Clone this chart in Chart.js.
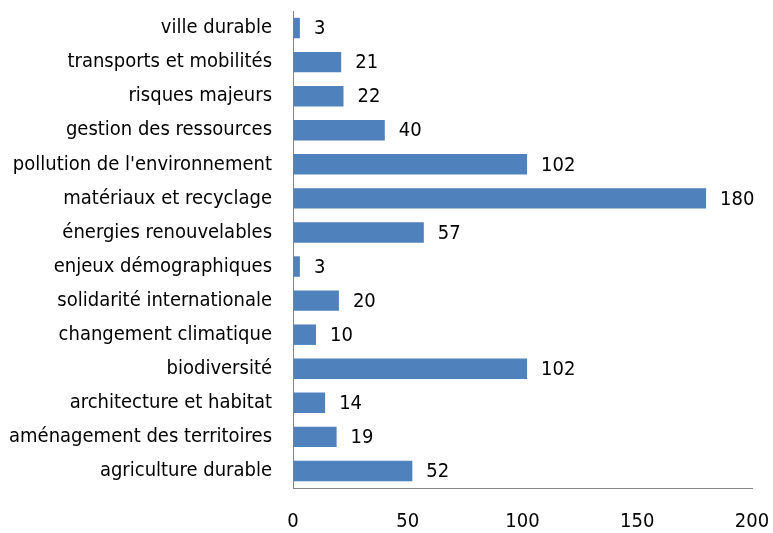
<!DOCTYPE html>
<html lang="fr">
<head>
    <meta charset="UTF-8">
    <script src="https://cdn.jsdelivr.net/npm/chart.js"></script>
    <title>Thèmes</title>
    <style>
        body { margin: 0; background: #fff; }
        #wrap { width: 773px; height: 533px; }
    </style>
</head>
<body>
<div id="wrap"><canvas id="myChart" width="773" height="533"></canvas></div>

<script>
    // data block
    const categories = [
        'ville durable',
        'transports et mobilités',
        'risques majeurs',
        'gestion des ressources',
        "pollution de l'environnement",
        'matériaux et recyclage',
        'énergies renouvelables',
        'enjeux démographiques',
        'solidarité internationale',
        'changement climatique',
        'biodiversité',
        'architecture et habitat',
        'aménagement des territoires',
        'agriculture durable'
    ];
    const counts = [3, 21, 22, 40, 102, 180, 57, 3, 20, 10, 102, 14, 19, 52];
    const xTicks = [0, 50, 100, 150, 200];

    const FONT = "'Liberation Sans Narrow', 'DejaVu Sans Condensed', 'Liberation Sans', sans-serif";

    // value labels right of each bar
    const valueLabels = {
        id: 'valueLabels',
        afterDatasetsDraw(chart) {
            const ctx = chart.ctx;
            const meta = chart.getDatasetMeta(0);
            ctx.save();
            ctx.font = '20px ' + FONT;
            ctx.fillStyle = '#000';
            ctx.textAlign = 'left';
            ctx.textBaseline = 'middle';
            meta.data.forEach((bar, i) => {
                ctx.fillText(counts[i], bar.x + 14, bar.y + 1);
            });
            ctx.restore();
        }
    };

    // drop the edge padding chart.js reserves for tick labels
    const noEdgePad = s => {
        s.paddingTop = 0; s.paddingBottom = 0;
        s.paddingLeft = 0; s.paddingRight = 0;
    };

    const config = {
        type: 'bar',
        data: {
            labels: categories,
            datasets: [{
                data: counts,
                backgroundColor: '#4F81BD',
                borderWidth: 0,
                barPercentage: 0.6,
                categoryPercentage: 1
            }]
        },
        options: {
            indexAxis: 'y',
            responsive: false,
            animation: false,
            layout: { padding: { top: 11, right: 21, left: 0, bottom: 0 } },
            plugins: {
                legend: { display: false },
                tooltip: { enabled: false }
            },
            scales: {
                x: {
                    min: 0,
                    max: 200,
                    afterBuildTicks: s => { s.ticks = xTicks.map(v => ({ value: v })); },
                    grid: { drawOnChartArea: false, drawTicks: false },
                    border: { color: '#868686', width: 1 },
                    ticks: { color: '#000', font: { family: FONT, size: 20 }, padding: 22 },
                    afterFit: s => { s.height = 45; noEdgePad(s); }
                },
                y: {
                    grid: { drawOnChartArea: false, drawTicks: false },
                    border: { color: '#868686', width: 1 },
                    ticks: { color: '#000', font: { family: FONT, size: 20 }, padding: 21, autoSkip: false },
                    afterFit: s => { s.width = 293; noEdgePad(s); }
                }
            }
        },
        plugins: [valueLabels]
    };

    const myChart = new Chart(document.getElementById('myChart'), config);
</script>
</body>
</html>
